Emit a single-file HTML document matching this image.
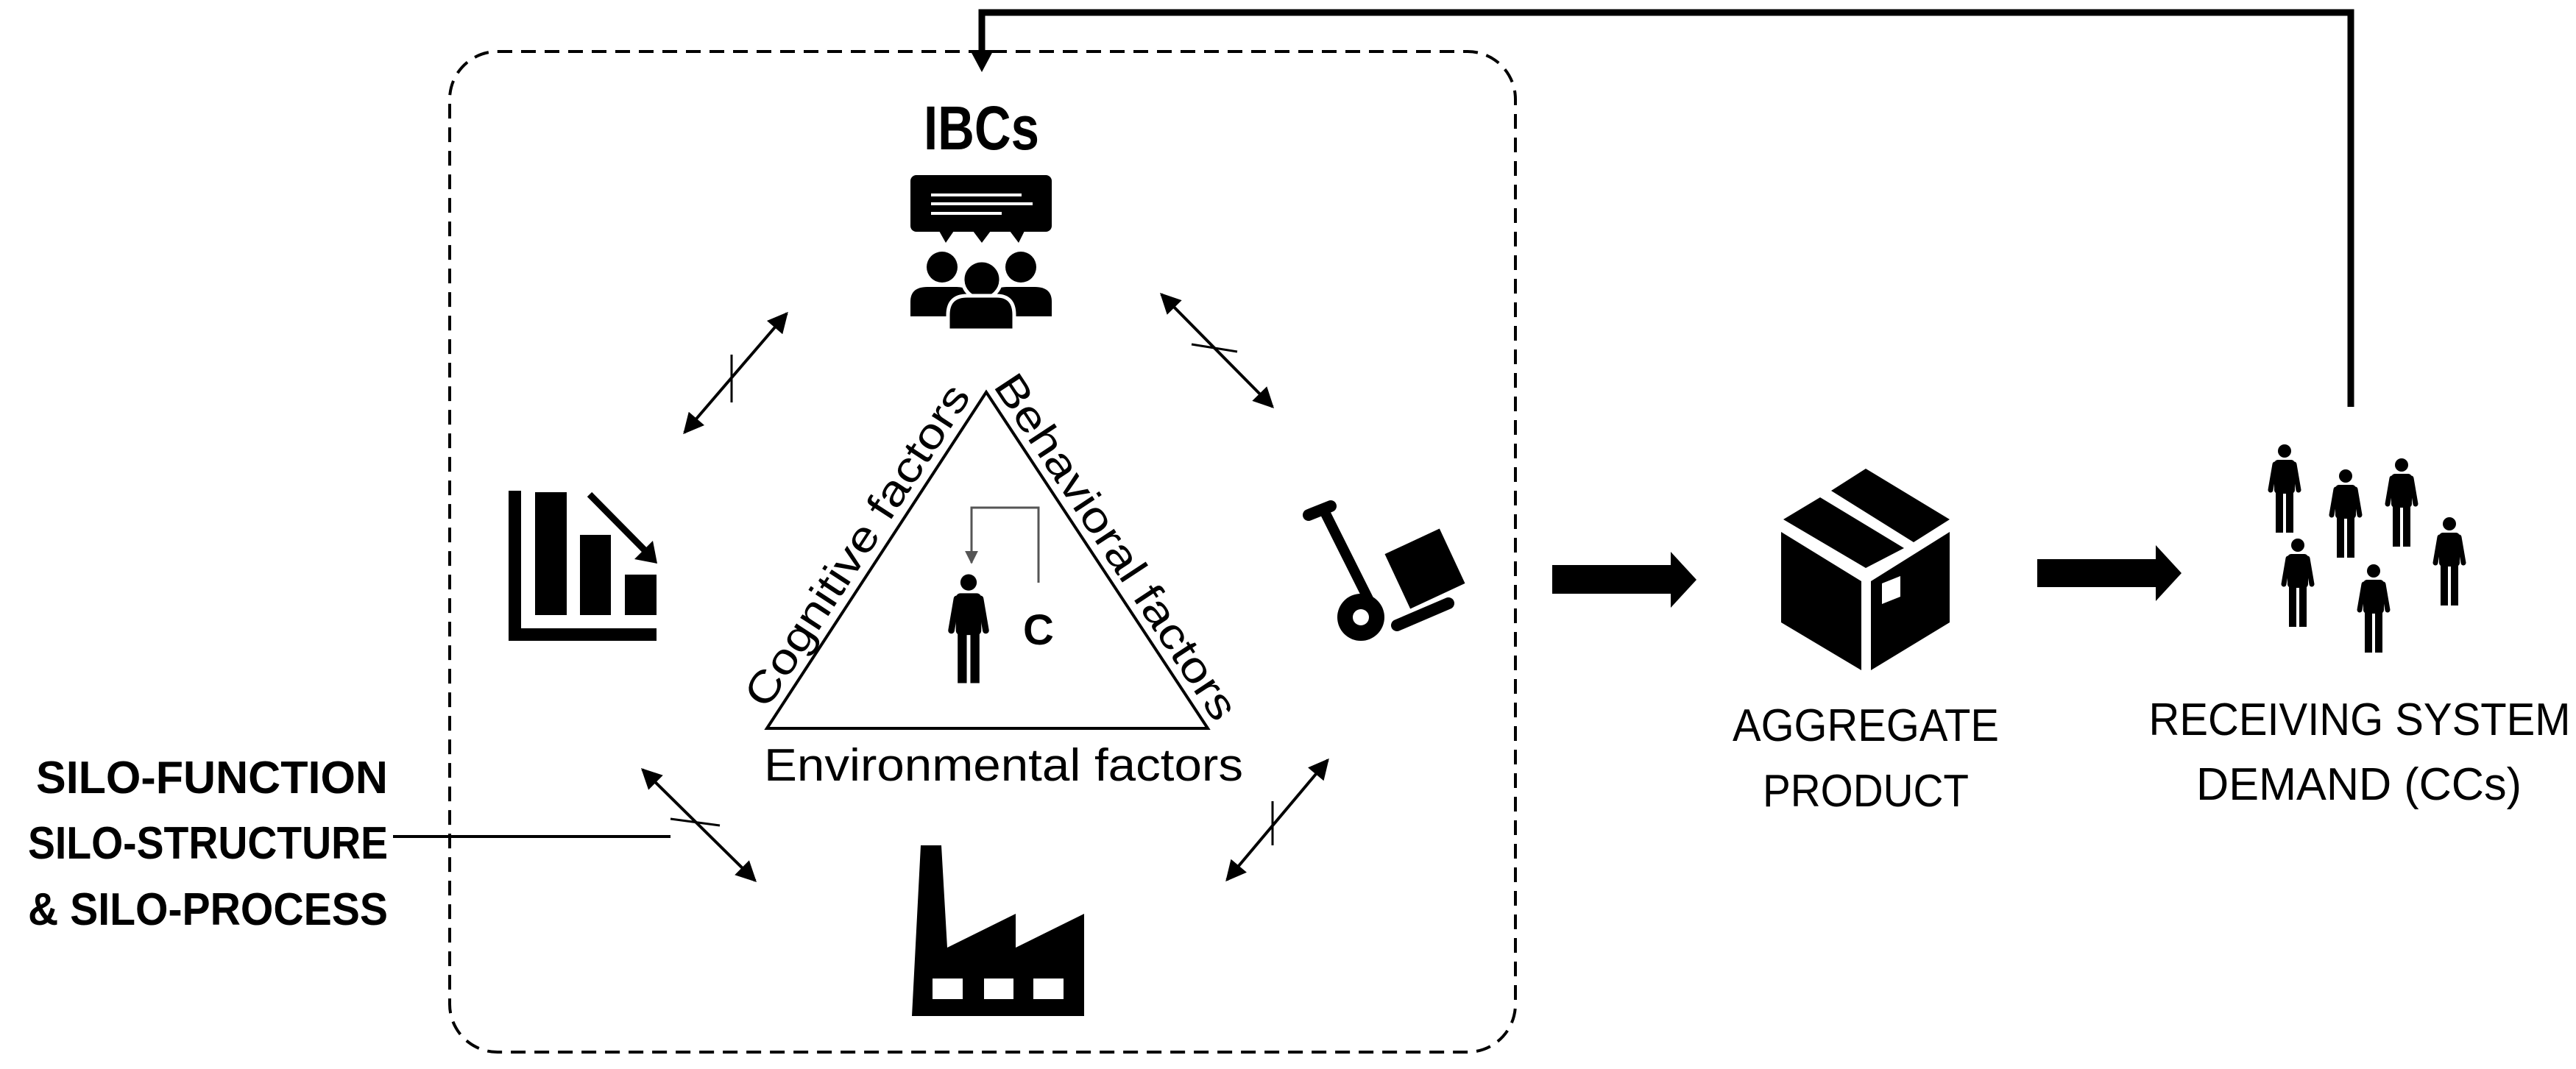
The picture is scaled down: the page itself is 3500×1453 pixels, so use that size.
<!DOCTYPE html>
<html><head><meta charset="utf-8"><style>html,body{margin:0;padding:0;background:#fff}svg{display:block}</style></head>
<body>
<svg width="3500" height="1453" viewBox="0 0 3500 1453" xmlns="http://www.w3.org/2000/svg" font-family="'Liberation Sans', sans-serif">
<defs>
<marker id="ah" viewBox="0 0 10 10" refX="9" refY="5" markerWidth="8" markerHeight="7" markerUnits="strokeWidth" orient="auto-start-reverse"><path d="M0,0 L10,5 L0,10 z" fill="#000"/></marker>
<marker id="ahg" viewBox="0 0 10 10" refX="9" refY="5" markerWidth="6" markerHeight="6" markerUnits="strokeWidth" orient="auto"><path d="M0,0 L10,5 L0,10 z" fill="#555"/></marker>
<symbol id="man" viewBox="0 0 60 120">
<circle cx="30" cy="9" r="9" fill="#000"/>
<rect x="16" y="21" width="28" height="46" rx="5" fill="#000"/>
<line x1="17" y1="27" x2="11" y2="62" stroke="#000" stroke-width="7" stroke-linecap="round"/>
<line x1="43" y1="27" x2="49" y2="62" stroke="#000" stroke-width="7" stroke-linecap="round"/>
<rect x="18" y="60" width="10" height="60" fill="#000"/>
<rect x="32" y="60" width="10" height="60" fill="#000"/>
</symbol>
</defs>

<!-- dashed box -->
<rect x="611" y="70" width="1448" height="1360" rx="65" fill="none" stroke="#000" stroke-width="4" stroke-dasharray="20 12"/>

<!-- feedback line -->
<polyline points="3194,553 3194,17 1334,17 1334,72" fill="none" stroke="#000" stroke-width="9"/>
<polygon points="1318,68 1350,68 1334,98" fill="#000"/>

<!-- IBCs -->
<text x="1255" y="203" font-size="84" font-weight="bold" textLength="157" lengthAdjust="spacingAndGlyphs">IBCs</text>
<rect x="1237" y="238" width="192" height="77" rx="8" fill="#000"/>
<polygon points="1276,314 1296,314 1285,330" fill="#000"/>
<polygon points="1322,314 1346,314 1334,330" fill="#000"/>
<polygon points="1372,314 1392,314 1384,330" fill="#000"/>
<line x1="1265" y1="265" x2="1388" y2="265" stroke="#fff" stroke-width="4"/>
<line x1="1265" y1="277" x2="1403" y2="277" stroke="#fff" stroke-width="4"/>
<line x1="1265" y1="290" x2="1361" y2="290" stroke="#fff" stroke-width="4"/>
<circle cx="1280" cy="363" r="21" fill="#000"/>
<circle cx="1387" cy="363" r="21" fill="#000"/>
<path d="M1237,430 L1237,410 Q1237,390 1260,390 L1300,390 Q1320,390 1320,410 L1320,430 Z" fill="#000"/>
<path d="M1346,430 L1346,410 Q1346,390 1368,390 L1406,390 Q1429,390 1429,410 L1429,430 Z" fill="#000"/>
<circle cx="1334" cy="380" r="26" fill="#000" stroke="#fff" stroke-width="5"/>
<path d="M1288,449 L1288,428 Q1288,402 1314,402 L1354,402 Q1378,402 1378,428 L1378,449 Z" fill="#000" stroke="#fff" stroke-width="5"/>

<!-- triangle -->
<polygon points="1340,533 1042,990 1641,990" fill="none" stroke="#000" stroke-width="4"/>
<text x="1181" y="752" font-size="58" text-anchor="middle" transform="rotate(-56.9 1181 752)" textLength="510" lengthAdjust="spacingAndGlyphs">Cognitive factors</text>
<text x="1500" y="754" font-size="58" text-anchor="middle" transform="rotate(56.6 1500 754)" textLength="550" lengthAdjust="spacingAndGlyphs">Behavioral factors</text>
<text x="1038" y="1061" font-size="62" textLength="651" lengthAdjust="spacingAndGlyphs">Environmental factors</text>
<use href="#man" x="1279" y="778" width="74" height="153" preserveAspectRatio="none"/>
<polyline points="1411,792 1411,690 1320,690 1320,765" fill="none" stroke="#555" stroke-width="3" marker-end="url(#ahg)"/>
<text x="1390" y="876" font-size="58" font-weight="bold">C</text>

<!-- bar chart -->
<rect x="691" y="667" width="17" height="204" fill="#000"/>
<rect x="691" y="854" width="201" height="17" fill="#000"/>
<rect x="727" y="669" width="43" height="167" fill="#000"/>
<rect x="788" y="727" width="42" height="109" fill="#000"/>
<rect x="849" y="781" width="43" height="55" fill="#000"/>
<line x1="801" y1="672" x2="880" y2="752" stroke="#000" stroke-width="9"/>
<polygon points="893,766 862,760 887,735" fill="#000"/>

<!-- trolley -->
<line x1="1778" y1="700" x2="1808" y2="688" stroke="#000" stroke-width="16" stroke-linecap="round"/>
<line x1="1798" y1="692" x2="1868" y2="832" stroke="#000" stroke-width="14"/>
<rect x="1895" y="732" width="82" height="82" fill="#000" transform="rotate(-25 1936 773)"/>
<circle cx="1849" cy="839" r="32" fill="#000"/>
<circle cx="1849" cy="839" r="11" fill="#fff"/>
<line x1="1898" y1="850" x2="1968" y2="820" stroke="#000" stroke-width="16" stroke-linecap="round"/>

<!-- factory -->
<path d="M1251,1149 L1279,1149 L1287,1288 L1380,1242 L1380,1288 L1473,1242 L1473,1381 L1239,1381 Z" fill="#000"/>
<rect x="1267" y="1330" width="41" height="28" fill="#fff"/>
<rect x="1337" y="1330" width="40" height="28" fill="#fff"/>
<rect x="1404" y="1330" width="41" height="28" fill="#fff"/>

<!-- double arrows -->
<g stroke="#000" stroke-width="4" fill="none">
<line x1="930" y1="588" x2="1069" y2="426" marker-start="url(#ah)" marker-end="url(#ah)"/>
<line x1="994" y1="482" x2="994" y2="547" stroke-width="3"/>
<line x1="1578" y1="400" x2="1729" y2="553" marker-start="url(#ah)" marker-end="url(#ah)"/>
<line x1="1619" y1="468" x2="1681" y2="478" stroke-width="3"/>
<line x1="873" y1="1046" x2="1026" y2="1197" marker-start="url(#ah)" marker-end="url(#ah)"/>
<line x1="911" y1="1113" x2="978" y2="1122" stroke-width="3"/>
<line x1="1804" y1="1033" x2="1667" y2="1196" marker-start="url(#ah)" marker-end="url(#ah)"/>
<line x1="1729" y1="1089" x2="1729" y2="1149" stroke-width="3"/>
<line x1="534" y1="1137" x2="911" y2="1137" stroke-width="4"/>
</g>

<!-- left labels -->
<g font-size="62" font-weight="bold" text-anchor="end">
<text x="527" y="1078" textLength="478" lengthAdjust="spacingAndGlyphs">SILO-FUNCTION</text>
<text x="527" y="1167" textLength="489" lengthAdjust="spacingAndGlyphs">SILO-STRUCTURE</text>
<text x="527" y="1257" textLength="489" lengthAdjust="spacingAndGlyphs">&amp; SILO-PROCESS</text>
</g>

<!-- big arrows -->
<rect x="2109" y="768" width="163" height="39" fill="#000"/>
<polygon points="2270,750 2305,788 2270,826" fill="#000"/>
<rect x="2768" y="760" width="163" height="38" fill="#000"/>
<polygon points="2929,741 2964,779 2929,817" fill="#000"/>

<!-- box icon -->
<polygon points="2420,723 2529,790 2529,911 2420,846" fill="#000"/>
<polygon points="2542,790 2649,723 2649,846 2542,911" fill="#000"/>
<polygon points="2423,706 2473,676 2587,745 2535,772" fill="#000"/>
<polygon points="2488,667 2535,637 2649,706 2600,737" fill="#000"/>
<polygon points="2557,793 2582,783 2582,811 2557,821" fill="#fff"/>

<text x="2535" y="1007" font-size="62" text-anchor="middle" textLength="362" lengthAdjust="spacingAndGlyphs">AGGREGATE</text>
<text x="2535" y="1096" font-size="62" text-anchor="middle" textLength="280" lengthAdjust="spacingAndGlyphs">PRODUCT</text>

<!-- people -->
<use href="#man" x="3074" y="604" width="60" height="120"/>
<use href="#man" x="3157" y="638" width="60" height="120"/>
<use href="#man" x="3233" y="623" width="60" height="120"/>
<use href="#man" x="3298" y="703" width="60" height="120"/>
<use href="#man" x="3092" y="732" width="60" height="120"/>
<use href="#man" x="3195" y="767" width="60" height="120"/>

<text x="3206" y="999" font-size="62" text-anchor="middle" textLength="573" lengthAdjust="spacingAndGlyphs">RECEIVING SYSTEM</text>
<text x="3205" y="1087" font-size="62" text-anchor="middle" textLength="442" lengthAdjust="spacingAndGlyphs">DEMAND (CCs)</text>
</svg>
</body></html>
